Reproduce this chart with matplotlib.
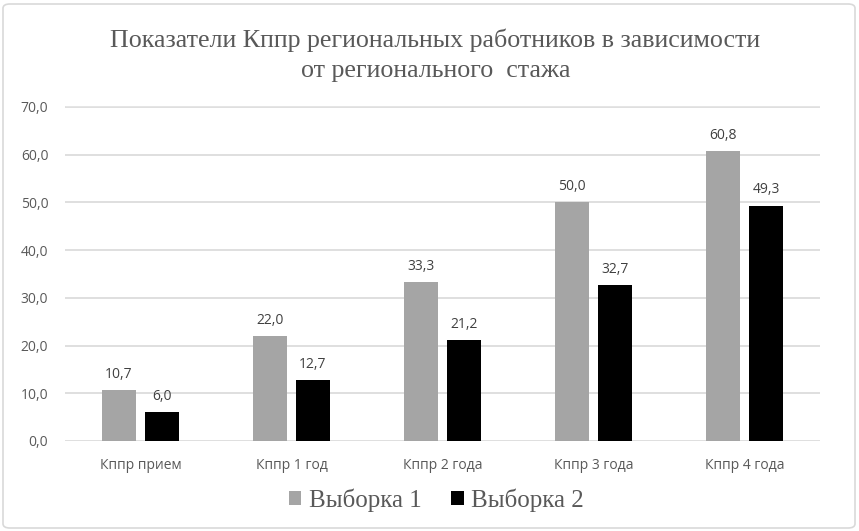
import numpy as np
import matplotlib.pyplot as plt
from matplotlib.patches import FancyBboxPatch

categories = ['Кппр прием', 'Кппр 1 год', 'Кппр 2 года', 'Кппр 3 года', 'Кппр 4 года']
sample1 = [10.7, 22.0, 33.3, 50.0, 60.8]
sample2 = [6.0, 12.7, 21.2, 32.7, 49.3]
series_names = ['Выборка 1', 'Выборка 2']

TEXT = '#595959'
GRID = '#d9d9d9'

fig = plt.figure(figsize=(8.59, 5.31), dpi=100)
ax = fig.add_axes([65 / 859, 1 - 441 / 531, 755 / 859, 334 / 531 * 80 / 70])

x = np.arange(len(categories))
width = 0.225
offset = 0.1425
b1 = ax.bar(x - offset, sample1, width, color='#a5a5a5', label=series_names[0], zorder=3)
b2 = ax.bar(x + offset, sample2, width, color='#000000', label=series_names[1], zorder=3)

for bars in (b1, b2):
    for rect in bars:
        h = rect.get_height()
        ax.annotate(f'{h:.1f}'.replace('.', ','), (rect.get_x() + rect.get_width() / 2, h),
                    xytext=(0, 6), textcoords='offset points', ha='center', va='bottom',
                    fontsize=10, color='#404040', family='Open Sans')

ax.set_xlim(-0.5, len(categories) - 0.5)
ax.set_ylim(0, 80)
ax.set_yticks(np.arange(0, 71, 10))
ax.set_yticklabels([f'{v:.1f}'.replace('.', ',') for v in np.arange(0, 71, 10)])
ax.set_xticks(x)
ax.set_xticklabels(categories)
ax.tick_params(length=0, labelsize=10, labelcolor=TEXT, pad=12)
for lab in ax.get_xticklabels() + ax.get_yticklabels():
    lab.set_family('Open Sans')
ax.grid(axis='y', color=GRID, linewidth=1.2, zorder=0)
ax.set_axisbelow(True)
for s in ax.spines.values():
    s.set_visible(False)
ax.patch.set_alpha(0)

# mask grid above 70
ax.axhspan(70.5, 80, color='white', zorder=1)

fig.text(0.507, 0.925, 'Показатели Кппр региональных работников в зависимости',
         ha='center', va='center', fontsize=18.7, color=TEXT, family='Liberation Serif')
fig.text(0.507, 0.866, 'от регионального  стажа',
         ha='center', va='center', fontsize=18.7, color=TEXT, family='Liberation Serif')

fig.legend(handles=[b1, b2], loc='center', bbox_to_anchor=(0.508, 0.058), ncol=2, frameon=False,
           prop={'family': 'Liberation Serif', 'size': 18}, labelcolor=TEXT,
           handlelength=0.5, handleheight=0.5, handletextpad=0.3, columnspacing=1.2)

border = FancyBboxPatch((3 / 859, 3 / 531), 852 / 859, 524 / 531, boxstyle='round,pad=0,rounding_size=0.008',
                        transform=fig.transFigure, fill=False, edgecolor=GRID, linewidth=1.2)
fig.patches.append(border)

fig.savefig('out.png', dpi=100)
